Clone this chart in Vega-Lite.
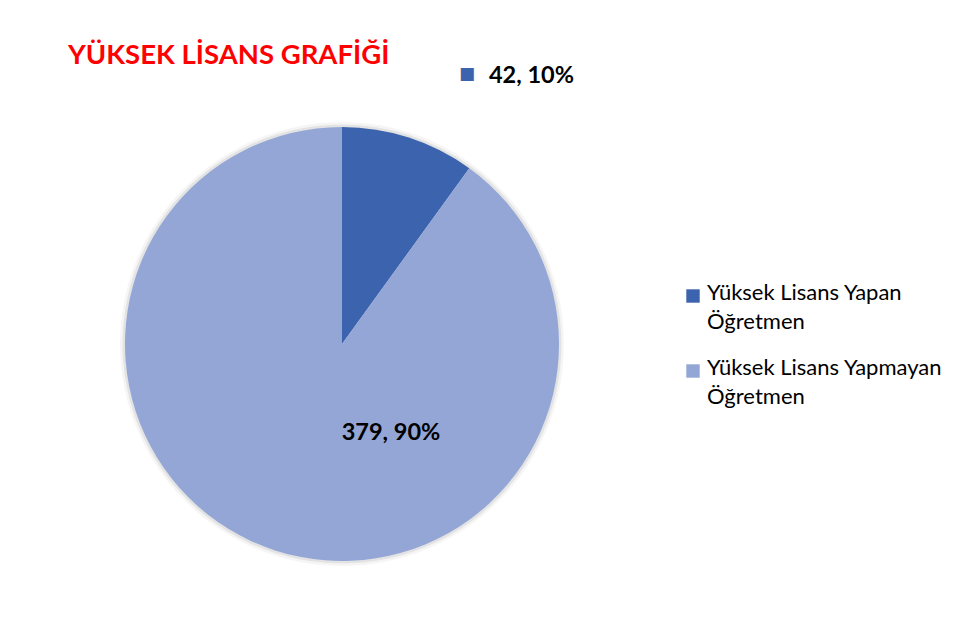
{
  "$schema": "https://vega.github.io/schema/vega-lite/v6.json",
  "width": 434,
  "height": 434,
  "autosize": "none",
  "padding": {"left": 125, "top": 127, "right": 394, "bottom": 65},
  "background": "white",
  "config": {
    "view": {"stroke": null},
    "font": "Lato",
    "style": {"guide-label": {"lineHeight": 29, "dy": -13}}
  },
  "title": {
    "text": "YÜKSEK LİSANS GRAFİĞİ",
    "anchor": "start",
    "frame": "group",
    "dx": -57,
    "offset": -28,
    "baseline": "alphabetic",
    "font": "Lato",
    "fontSize": 27.5,
    "fontWeight": "bold",
    "color": "#FF0000"
  },
  "data": {
    "values": [
      {"kategori": "Yüksek Lisans Yapan Öğretmen", "sayi": 42, "etiket": "42, 10%"},
      {"kategori": "Yüksek Lisans Yapmayan Öğretmen", "sayi": 379, "etiket": "379, 90%"}
    ]
  },
  "encoding": {
    "theta": {"field": "sayi", "type": "quantitative", "stack": true},
    "order": {"field": "kategori", "sort": "ascending"}
  },
  "layer": [
    {
      "mark": {"type": "arc", "stroke": null, "radius": 222, "color": "#000000", "opacity": 0.04},
      "encoding": {}
    },
    {
      "mark": {"type": "arc", "stroke": null, "radius": 219.5, "color": "#000000", "opacity": 0.07},
      "encoding": {}
    },
    {
      "mark": {"type": "arc", "stroke": null},
      "encoding": {
        "color": {
          "field": "kategori",
          "type": "nominal",
          "scale": {
            "domain": ["Yüksek Lisans Yapan Öğretmen", "Yüksek Lisans Yapmayan Öğretmen"],
            "range": ["#3C64AE", "#93A6D6"]
          },
          "legend": {
            "title": null,
            "orient": "none",
            "legendX": 557,
            "legendY": 158,
            "padding": 0,
            "symbolType": "square",
            "symbolSize": 180,
            "symbolStrokeWidth": 0,
            "labelFont": "Lato",
            "labelFontSize": 22,
            "labelColor": "#000000",
            "labelOffset": 3,
            "labelLimit": 400,
            "rowPadding": 24,
            "labelBaseline": "top",
            "labelExpr": "datum.label == 'Yüksek Lisans Yapan Öğretmen' ? ['Yüksek Lisans Yapan', 'Öğretmen'] : ['Yüksek Lisans Yapmayan', 'Öğretmen']"
          }
        }
      }
    },
    {
      "mark": {"type": "text", "radius": 282, "align": "left", "baseline": "middle", "dx": 60, "font": "Lato", "fontSize": 23.5, "fontWeight": "bold", "color": "#000000"},
      "encoding": {
        "text": {"field": "etiket"},
        "opacity": {"condition": {"test": "datum.kategori == 'Yüksek Lisans Yapan Öğretmen'", "value": 1}, "value": 0}
      }
    },
    {
      "mark": {"type": "text", "radius": 282, "align": "center", "baseline": "middle", "dx": 38, "dy": -2, "font": "DejaVu Sans", "fontSize": 17, "color": "#3C64AE"},
      "encoding": {
        "text": {"value": "■"},
        "opacity": {"condition": {"test": "datum.kategori == 'Yüksek Lisans Yapan Öğretmen'", "value": 1}, "value": 0}
      }
    },
    {
      "mark": {"type": "text", "radius": 94, "align": "center", "baseline": "middle", "dx": 78, "font": "Lato", "fontSize": 23.5, "fontWeight": "bold", "color": "#000000"},
      "encoding": {
        "text": {"field": "etiket"},
        "opacity": {"condition": {"test": "datum.kategori == 'Yüksek Lisans Yapmayan Öğretmen'", "value": 1}, "value": 0}
      }
    }
  ]
}
